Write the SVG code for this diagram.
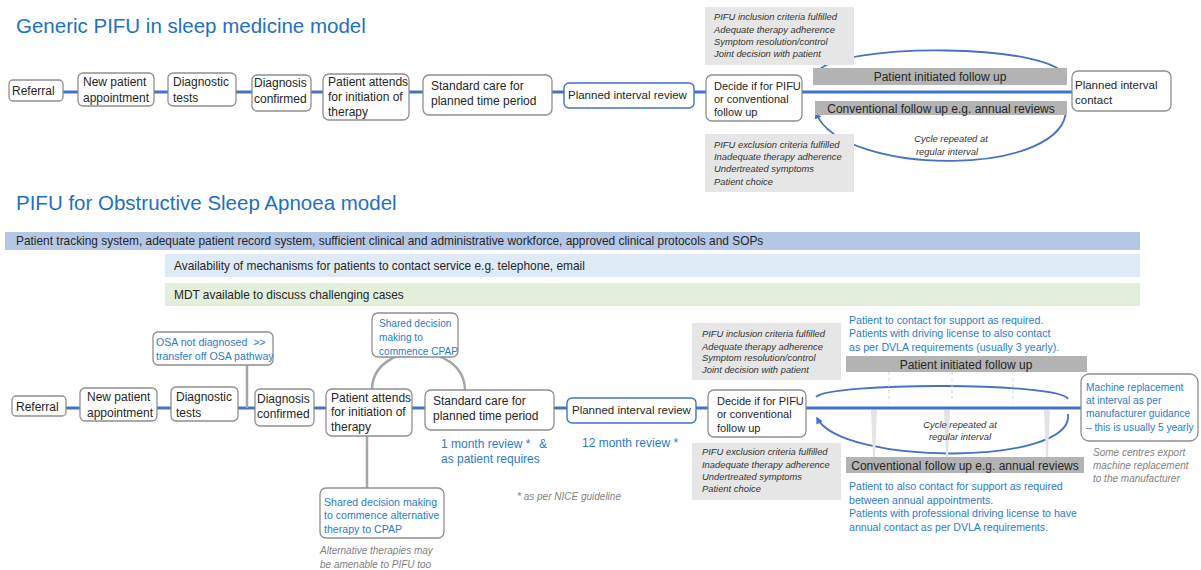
<svg xmlns="http://www.w3.org/2000/svg" width="1201" height="570" viewBox="0 0 1201 570">
<style>
.bg{fill:#ffffff}
.box{fill:#ffffff;stroke:#8f8f8f;stroke-width:1.3}
.bbox{fill:#ffffff;stroke:#4472c4;stroke-width:1.4}
.t{font-family:"Liberation Sans",Arial,sans-serif;font-size:12px;fill:#262626}
.t11{font-family:"Liberation Sans",Arial,sans-serif;font-size:11px;fill:#262626}
.t115{font-family:"Liberation Sans",Arial,sans-serif;font-size:11.5px;fill:#262626}
.bar{font-family:"Liberation Sans",Arial,sans-serif;font-size:11.9px;fill:#262626}
.bt{font-family:"Liberation Sans",Arial,sans-serif;font-size:10.6px;fill:#2b7bcd}
.bt12{font-family:"Liberation Sans",Arial,sans-serif;font-size:12px;fill:#2b7bcd}
.it{font-family:"Liberation Sans",Arial,sans-serif;font-size:9.4px;font-style:italic;fill:#333333}
.note{font-family:"Liberation Sans",Arial,sans-serif;font-size:10px;font-style:italic;fill:#7f7f7f}
.title{font-family:"Liberation Sans",Arial,sans-serif;font-size:20.5px;fill:#1f70c1}
.crit{fill:#e6e6e6}
.gbar{fill:#b3b3b3}
.main{stroke:#4472c4;stroke-width:3;fill:none}
.arc{stroke:#4472c4;stroke-width:1.8;fill:none}
.gline{stroke:#a6a6a6;stroke-width:2.5;fill:none}
.faint{stroke:#d6d6d6;stroke-width:1;stroke-dasharray:3,3;fill:none}
.wedge{fill:#e3e3e3}
</style>
<defs>
<marker id="ah" viewBox="0 0 10 10" refX="8" refY="5" markerWidth="7" markerHeight="7" orient="auto-start-reverse" markerUnits="userSpaceOnUse">
<path d="M0,0 L10,5 L0,10 z" fill="#4472c4"/>
</marker>
<marker id="ahs" viewBox="0 0 10 10" refX="8" refY="5" markerWidth="5" markerHeight="5" orient="auto-start-reverse" markerUnits="userSpaceOnUse">
<path d="M0,0 L10,5 L0,10 z" fill="#4472c4"/>
</marker>
</defs>
<rect class="bg" x="0" y="0" width="1201" height="570"/>

<text class="title" x="16" y="33">Generic PIFU in sleep medicine model</text>
<text class="title" x="16" y="210">PIFU for Obstructive Sleep Apnoea model</text>

<!-- background bars -->
<g id="bars">
<rect x="5" y="232" width="1135" height="18" fill="#b4c7e7"/>
<text class="bar" x="16" y="245">Patient tracking system, adequate patient record system, sufficient clinical and administrative workforce, approved clinical protocols and SOPs</text>
<rect x="165" y="254" width="975" height="23" fill="#deebf7"/>
<text class="bar" x="174" y="270">Availability of mechanisms for patients to contact service e.g. telephone, email</text>
<rect x="165" y="283" width="975" height="23" fill="#e2efda"/>
<text class="bar" x="174" y="299">MDT available to discuss challenging cases</text>
</g>

<!-- connectors -->
<g id="connectors">
<line class="main" x1="63" y1="92" x2="1072" y2="92"/>
<line class="main" x1="66" y1="408" x2="1081" y2="408"/>
<path class="arc" d="M1066,79 C1062,42 832,42 817,73" marker-end="url(#ahs)"/>
<path class="arc" d="M1066,106 C1072,178 842,178 816,113" marker-end="url(#ah)"/>
<path class="arc" d="M1068,399 C1060,382 830,382 816,397"/>
<path class="arc" d="M1068,414 C1075,466 842,466 817,418" marker-end="url(#ah)"/>
<line class="gline" x1="247" y1="365" x2="247" y2="408"/>
<path class="gline" d="M372,390 C372,340 465,340 465,391"/>
<line class="gline" x1="367" y1="436" x2="367" y2="488"/>
<line class="faint" x1="889" y1="372" x2="889" y2="403"/>
<line class="faint" x1="952" y1="372" x2="952" y2="403"/>
<line class="faint" x1="1013" y1="372" x2="1013" y2="403"/>
<path class="wedge" d="M871,410 L877,410 L875,457 L873,457 z"/>
<path class="wedge" d="M944,410 L950,410 L948,457 L946,457 z"/>
<path class="wedge" d="M1044,410 L1050,410 L1048,457 L1046,457 z"/>
</g>

<!-- top section nodes -->
<g id="t-referral"><rect class="box" x="9" y="80" width="54" height="21" rx="4"/><text class="t" x="12" y="95">Referral</text></g>
<g id="t-newpatient"><rect class="box" x="78" y="73" width="76" height="33" rx="5"/><text class="t" x="83" y="86">New patient</text><text class="t" x="83" y="102">appointment</text></g>
<g id="t-diagtests"><rect class="box" x="168" y="73" width="68" height="33" rx="5"/><text class="t" x="173" y="86">Diagnostic</text><text class="t" x="173" y="102">tests</text></g>
<g id="t-diagconf"><rect class="box" x="252" y="75" width="59" height="36" rx="5"/><text class="t" x="254" y="87">Diagnosis</text><text class="t" x="254" y="103">confirmed</text></g>
<g id="t-attends"><rect class="box" x="323" y="74" width="86" height="46" rx="6"/><text class="t" x="328" y="86">Patient attends</text><text class="t" x="328" y="101">for initiation of</text><text class="t" x="328" y="116">therapy</text></g>
<g id="t-standard"><rect class="box" x="423" y="75" width="129" height="40" rx="6"/><text class="t" x="431" y="90">Standard care for</text><text class="t" x="431" y="105">planned time period</text></g>
<g id="t-planned"><rect class="bbox" x="564" y="83" width="130" height="25" rx="5"/><text class="t115" x="568" y="99">Planned interval review</text></g>
<g id="t-decide"><rect class="box" x="706" y="75" width="96" height="46" rx="6"/><text class="t11" x="714" y="90">Decide if for PIFU</text><text class="t11" x="714" y="103">or conventional</text><text class="t11" x="714" y="116">follow up</text></g>
<g id="t-contact"><rect class="box" x="1072" y="71" width="99" height="40" rx="6"/><text class="t115" x="1075" y="89">Planned interval</text><text class="t115" x="1075" y="104">contact</text></g>
<g id="t-incl"><rect class="crit" x="705" y="7" width="149" height="58"/>
<text class="it" x="714" y="20">PIFU inclusion criteria fulfilled</text><text class="it" x="714" y="33">Adequate therapy adherence</text><text class="it" x="714" y="45">Symptom resolution/control</text><text class="it" x="714" y="57">Joint decision with patient</text></g>
<g id="t-excl"><rect class="crit" x="705" y="134" width="149" height="58"/>
<text class="it" x="714" y="148">PIFU exclusion criteria fulfilled</text><text class="it" x="714" y="160">Inadequate therapy adherence</text><text class="it" x="714" y="172">Undertreated symptoms</text><text class="it" x="714" y="185">Patient choice</text></g>
<g id="t-pifu"><rect class="gbar" x="813" y="68" width="254" height="17"/><text class="t" x="940" y="81" text-anchor="middle">Patient initiated follow up</text></g>
<g id="t-conv"><rect class="gbar" x="815" y="101" width="252" height="14"/><text class="t" x="941" y="112.5" text-anchor="middle">Conventional follow up e.g. annual reviews</text></g>
<g id="t-cycle"><text class="it" x="951" y="142" text-anchor="middle">Cycle repeated at</text><text class="it" x="947" y="155" text-anchor="middle">regular interval</text></g>

<!-- bottom section nodes -->
<g id="b-referral"><rect class="box" x="12" y="396" width="54" height="20" rx="4"/><text class="t" x="16" y="411">Referral</text></g>
<g id="b-newpatient"><rect class="box" x="80" y="388" width="77" height="33" rx="5"/><text class="t" x="87" y="401">New patient</text><text class="t" x="87" y="417">appointment</text></g>
<g id="b-diagtests"><rect class="box" x="171" y="387" width="67" height="34" rx="5"/><text class="t" x="176" y="401">Diagnostic</text><text class="t" x="176" y="417">tests</text></g>
<g id="b-diagconf"><rect class="box" x="255" y="389" width="59" height="37" rx="5"/><text class="t" x="257" y="403">Diagnosis</text><text class="t" x="257" y="418">confirmed</text></g>
<g id="b-attends"><rect class="box" x="326" y="389" width="86" height="47" rx="6"/><text class="t" x="331" y="402">Patient attends</text><text class="t" x="331" y="416">for initiation of</text><text class="t" x="331" y="431">therapy</text></g>
<g id="b-standard"><rect class="box" x="425" y="390" width="129" height="40" rx="6"/><text class="t" x="433" y="405">Standard care for</text><text class="t" x="433" y="420">planned time period</text></g>
<g id="b-planned"><rect class="bbox" x="567" y="398" width="129" height="25" rx="5"/><text class="t115" x="572" y="414">Planned interval review</text></g>
<g id="b-decide"><rect class="box" x="708" y="390" width="98" height="47" rx="6"/><text class="t11" x="717" y="405">Decide if for PIFU</text><text class="t11" x="717" y="418">or conventional</text><text class="t11" x="717" y="432">follow up</text></g>
<g id="b-machine"><rect class="box" x="1081" y="374" width="117" height="67" rx="8"/>
<text class="bt" style="font-size:10.2px" x="1086" y="391">Machine replacement</text><text class="bt" style="font-size:10.2px" x="1086" y="404">at interval as per</text><text class="bt" style="font-size:10.2px" x="1086" y="417">manufacturer guidance</text><text class="bt" style="font-size:10.2px" x="1086" y="431">– this is usually 5 yearly</text></g>
<g id="b-osa"><rect class="box" x="153" y="332" width="120" height="33" rx="5"/><text class="bt" x="156" y="346" xml:space="preserve">OSA not diagnosed  &gt;&gt;</text><text class="bt" x="156" y="360">transfer off OSA pathway</text></g>
<g id="b-cpap"><rect class="box" x="372" y="313" width="86" height="44" rx="6"/><text class="bt" style="font-size:10.1px" x="379" y="327">Shared decision</text><text class="bt" style="font-size:10.1px" x="379" y="341">making to</text><text class="bt" style="font-size:10.1px" x="379" y="355">commence CPAP</text></g>
<g id="b-alt"><rect class="box" x="320" y="488" width="124" height="50" rx="6"/><text class="bt" x="324" y="506">Shared decision making</text><text class="bt" x="324" y="519">to commence alternative</text><text class="bt" x="324" y="533">therapy to CPAP</text></g>
<g id="b-altnote"><text class="note" x="320" y="554">Alternative therapies may</text><text class="note" x="320" y="568">be amenable to PIFU too</text></g>
<g id="b-reviews"><text class="bt12" x="441" y="448">1 month review *<tspan x="539">&amp;</tspan></text><text class="bt12" x="441" y="463">as patient requires</text><text class="bt12" x="582" y="447">12 month review *</text></g>
<g id="b-nice"><text class="note" x="517" y="500">* as per NICE guideline</text></g>
<g id="b-incl"><rect class="crit" x="692" y="323" width="149" height="57"/>
<text class="it" x="702" y="337">PIFU inclusion criteria fulfilled</text><text class="it" x="702" y="350">Adequate therapy adherence</text><text class="it" x="702" y="361">Symptom resolution/control</text><text class="it" x="702" y="373">Joint decision with patient</text></g>
<g id="b-excl"><rect class="crit" x="692" y="443" width="149" height="57"/>
<text class="it" x="702" y="455">PIFU exclusion criteria fulfilled</text><text class="it" x="702" y="468">Inadequate therapy adherence</text><text class="it" x="702" y="480">Undertreated symptoms</text><text class="it" x="702" y="492">Patient choice</text></g>
<g id="b-pifu"><rect class="gbar" x="846" y="356" width="241" height="16"/><text class="t" x="966" y="368.5" text-anchor="middle">Patient initiated follow up</text></g>
<g id="b-conv"><rect class="gbar" x="846" y="457" width="238" height="16"/><text class="t" x="965" y="469.5" text-anchor="middle">Conventional follow up e.g. annual reviews</text></g>
<g id="b-cycle"><text class="it" x="960" y="428" text-anchor="middle">Cycle repeated at</text><text class="it" x="960" y="440" text-anchor="middle">regular interval</text></g>
<g id="b-pifunote"><text class="bt" x="849" y="324">Patient to contact for support as required.</text><text class="bt" x="849" y="337">Patients with driving license to also contact</text><text class="bt" x="849" y="351">as per DVLA requirements (usually 3 yearly).</text></g>
<g id="b-convnote"><text class="bt" x="849" y="490">Patient to also contact for support as required</text><text class="bt" x="849" y="504">between annual appointments.</text><text class="bt" x="849" y="517">Patients with professional driving license to have</text><text class="bt" x="849" y="531">annual contact as per DVLA requirements.</text></g>
<g id="b-machinenote"><text class="note" x="1093" y="456">Some centres export</text><text class="note" x="1093" y="469">machine replacement</text><text class="note" x="1093" y="482">to the manufacturer</text></g>
</svg>
